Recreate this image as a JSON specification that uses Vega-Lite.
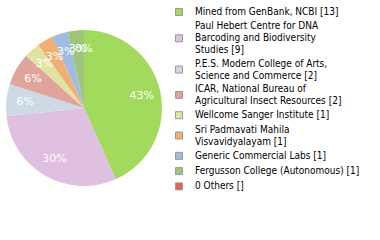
{
  "$schema": "https://vega.github.io/schema/vega-lite/v6.json",
  "width": 156,
  "height": 156,
  "autosize": "none",
  "padding": {"left": 6, "top": 30, "right": 218, "bottom": 54},
  "background": "white",
  "config": {"view": {"stroke": null}},
  "data": {
    "values": [
      {"rank": 1, "source": "Mined from GenBank, NCBI", "label": "Mined from GenBank, NCBI [13]", "count": 13},
      {"rank": 2, "source": "Paul Hebert Centre for DNA Barcoding and Biodiversity Studies", "label": "Paul Hebert Centre for DNA|Barcoding and Biodiversity|Studies [9]", "count": 9},
      {"rank": 3, "source": "P.E.S. Modern College of Arts, Science and Commerce", "label": "P.E.S. Modern College of Arts,|Science and Commerce [2]", "count": 2},
      {"rank": 4, "source": "ICAR, National Bureau of Agricultural Insect Resources", "label": "ICAR, National Bureau of|Agricultural Insect Resources [2]", "count": 2},
      {"rank": 5, "source": "Wellcome Sanger Institute", "label": "Wellcome Sanger Institute [1]", "count": 1},
      {"rank": 6, "source": "Sri Padmavati Mahila Visvavidyalayam", "label": "Sri Padmavati Mahila|Visvavidyalayam [1]", "count": 1},
      {"rank": 7, "source": "Generic Commercial Labs", "label": "Generic Commercial Labs [1]", "count": 1},
      {"rank": 8, "source": "Fergusson College (Autonomous)", "label": "Fergusson College (Autonomous) [1]", "count": 1},
      {"rank": 9, "source": "0 Others", "label": "0 Others []", "count": 0}
    ]
  },
  "transform": [
    {"joinaggregate": [{"op": "sum", "field": "count", "as": "total"}]},
    {"calculate": "floor(100 * datum.count / datum.total) + '%'", "as": "pct"}
  ],
  "encoding": {
    "theta": {"field": "count", "type": "quantitative", "stack": true},
    "order": {"field": "rank", "type": "quantitative"}
  },
  "layer": [
    {
      "mark": {"type": "arc", "outerRadius": 78},
      "encoding": {
        "color": {
          "field": "label",
          "type": "nominal",
          "sort": null,
          "scale": {
            "range": ["#a1da5d", "#e0c0e0", "#cdd9e4", "#e0a49c", "#dfe4a0", "#f2af74", "#9fbce1", "#9fc47c", "#d9694f"]
          },
          "legend": {
            "title": null,
            "orient": "none",
            "legendX": 168,
            "legendY": -23,
            "labelExpr": "split(datum.label, '|')",
            "labelFont": "DejaVu Sans Condensed",
            "labelFontSize": 10,
            "labelColor": "#000",
            "labelLimit": 400,
            "labelOffset": 11,
            "symbolType": "square",
            "symbolSize": 49,
            "symbolStrokeColor": "#999",
            "symbolStrokeWidth": 1,
            "symbolOpacity": 1,
            "rowPadding": 3.3,
            "encode": {
              "symbols": {
                "update": {
                  "y": {"signal": "5 + (length(split(datum.value, '|')) - 1) * 6"}
                }
              }
            }
          }
        }
      }
    },
    {
      "mark": {"type": "text", "radius": 59, "fill": "white", "font": "DejaVu Sans", "fontSize": 11},
      "encoding": {"text": {"field": "pct", "type": "nominal"}}
    }
  ]
}
